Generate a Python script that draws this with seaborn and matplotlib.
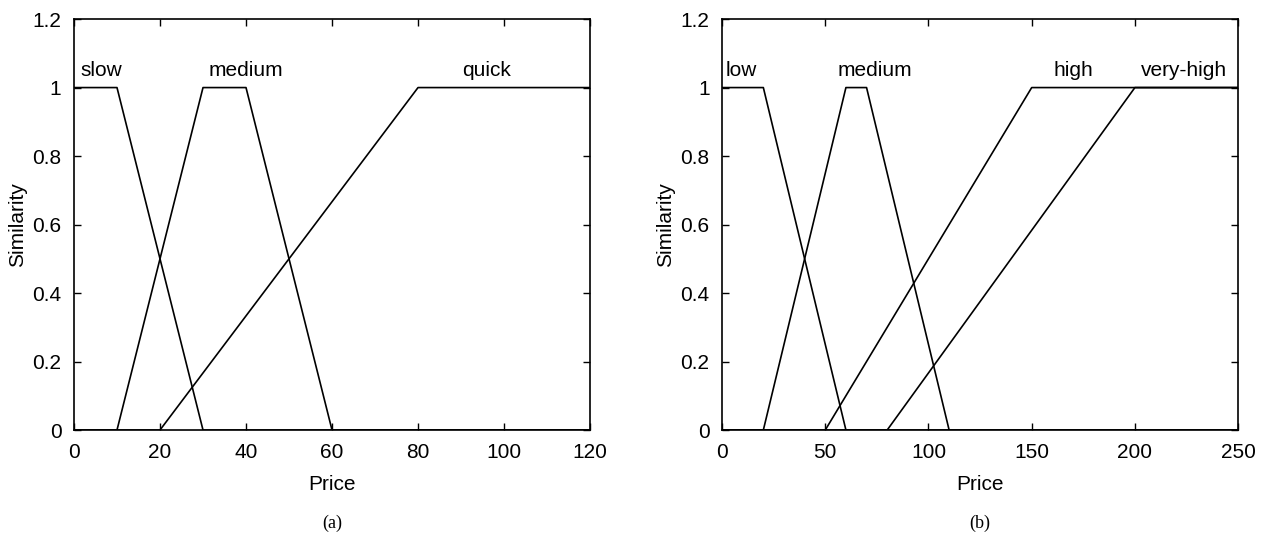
import pandas as pd
import seaborn as sns
import matplotlib.pyplot as plt

# ======================================================
# Membership functions (breakpoints)
# ======================================================

# (a) price terms: slow / medium / quick
slow_x = [0, 10, 30, 120]
slow_y = [1, 1, 0, 0]
med_a_x = [0, 10, 30, 40, 60, 120]
med_a_y = [0, 0, 1, 1, 0, 0]
quick_x = [0, 20, 80, 120]
quick_y = [0, 0, 1, 1]

# (b) price terms: low / medium / high / very-high
low_x = [0, 20, 60, 250]
low_y = [1, 1, 0, 0]
med_b_x = [0, 20, 60, 70, 110, 250]
med_b_y = [0, 0, 1, 1, 0, 0]
high_x = [0, 50, 150, 250]
high_y = [0, 0, 1, 1]
vhigh_x = [0, 80, 200, 250]
vhigh_y = [0, 0, 1, 1]

labels_a = ["slow", "medium", "quick"]
label_x_a = [1.5, 40, 96]
labels_b = ["low", "medium", "high", "very-high"]
label_x_b = [1.5, 74, 170, 224]
label_ha_a = ["left", "center", "center"]
label_ha_b = ["left", "center", "center", "center"]

sns.set_theme(style="ticks")
plt.rcParams["font.family"] = ["Liberation Sans", "DejaVu Sans"]
plt.rcParams["text.color"] = "black"
plt.rcParams["axes.labelcolor"] = "black"

fig = plt.figure(figsize=(12.67, 5.33), dpi=100)
ax1 = fig.add_axes([0.0584, 0.1932, 0.4073, 0.771])
ax2 = fig.add_axes([0.5699, 0.1932, 0.4073, 0.771])


def draw_panel(ax, series, labels, label_x, label_ha, xmax, xticks, caption):
    for xs, ys in series:
        d = pd.DataFrame({"x": xs, "y": ys})
        sns.lineplot(data=d, x="x", y="y", ax=ax, color="black",
                     linewidth=1.2, sort=False, estimator=None)
    for lab, lx, ha in zip(labels, label_x, label_ha):
        ax.text(lx, 1.035, lab, ha=ha, va="baseline", fontsize=15)
    ax.set_xlim(0, xmax)
    ax.set_ylim(0, 1.2)
    ax.set_xticks(xticks)
    ax.set_yticks([0, 0.2, 0.4, 0.6, 0.8, 1, 1.2])
    ax.set_yticklabels(["0", "0.2", "0.4", "0.6", "0.8", "1", "1.2"])
    ax.tick_params(direction="in", length=5, width=1, top=True, right=True,
                   labelsize=15, pad=9, colors="black")
    for s in ax.spines.values():
        s.set_visible(True)
        s.set_linewidth(1.2)
        s.set_color("black")
    ax.set_xlabel("Price", fontsize=15, labelpad=10)
    ax.set_ylabel("Similarity", fontsize=15, labelpad=4)
    ax.text(0.5, -0.226, caption, transform=ax.transAxes, ha="center",
            va="center", fontsize=13, family=["Liberation Serif", "DejaVu Serif"])


draw_panel(ax1, [(slow_x, slow_y), (med_a_x, med_a_y), (quick_x, quick_y)],
           labels_a, label_x_a, label_ha_a, 120, [0, 20, 40, 60, 80, 100, 120], "(a)")
draw_panel(ax2, [(low_x, low_y), (med_b_x, med_b_y), (high_x, high_y), (vhigh_x, vhigh_y)],
           labels_b, label_x_b, label_ha_b, 250, [0, 50, 100, 150, 200, 250], "(b)")

plt.savefig("out.png", dpi=100)
